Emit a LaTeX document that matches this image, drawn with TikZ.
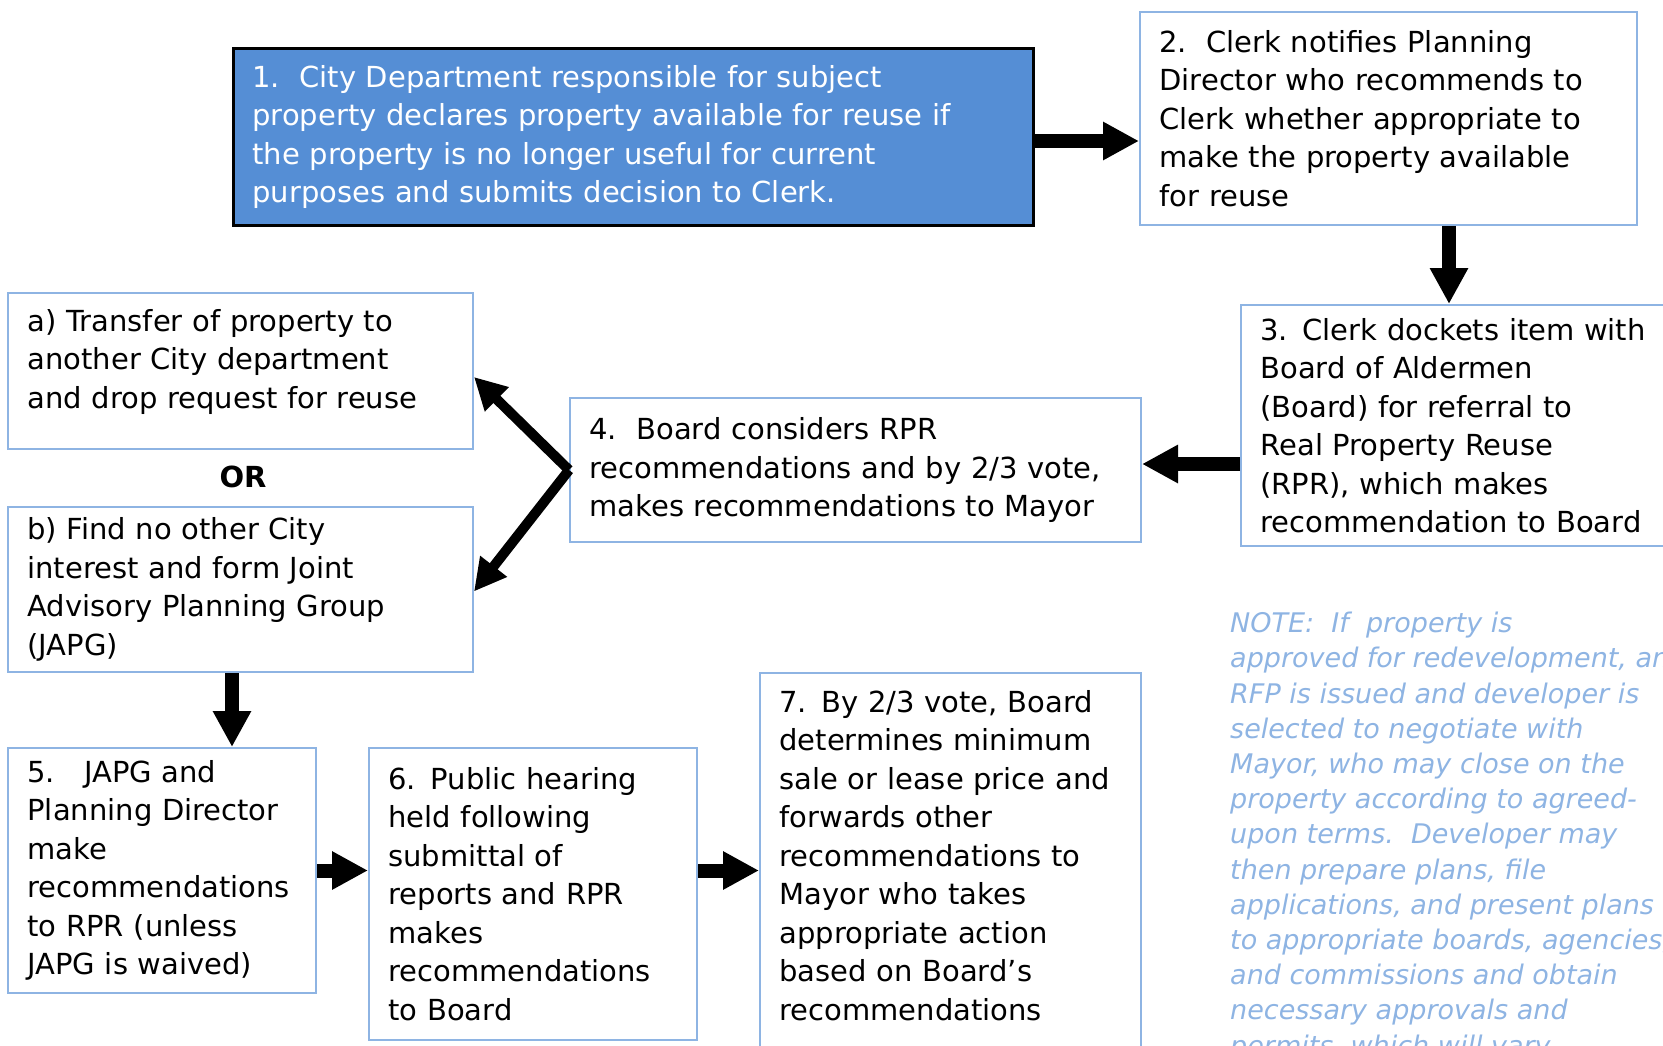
\documentclass[tikz,border=0pt]{standalone}
\usepackage{fontspec}
\setmainfont{DejaVu Sans}
\usepackage{xcolor}
\usetikzlibrary{arrows.meta}
\definecolor{boxblue}{HTML}{8EB4E3}
\definecolor{fillblue}{HTML}{558ED5}

\begin{document}
\begin{tikzpicture}[x=1pt,y=-1pt,
        stepbox/.style={draw=boxblue,line width=2pt,fill=white,align=left,
            inner xsep=19.5pt,inner ysep=0pt,font=\fontsize{29}{38.5}\selectfont},
        bigarrow/.style={-{Triangle[length=36pt,width=36pt]},line width=14pt},
        slimarrow/.style={-{Triangle[length=32pt,width=32pt]},line width=10pt},
        notetext/.style={align=left,inner sep=0pt,text=boxblue,
            font=\fontsize{27}{35.2}\selectfont\itshape}]
        \path[use as bounding box] (0,0) rectangle (1663,1046);
        \clip (0,0) rectangle (1663,1046);

        \node[stepbox,draw=black,line width=3pt,fill=fillblue,text=white,
            minimum width=800pt,minimum height=176pt,text width=761pt] (n1) at (633,137)
            {1.\ \ City Department responsible for subject\\property declares property available for reuse if\\the property is no longer useful for current\\purposes and submits decision to Clerk.};
        \node[stepbox,minimum width=497pt,minimum height=213pt,text width=458pt] (n2) at (1388.5,118.5)
            {2.\ \ Clerk notifies Planning\\Director who recommends to\\Clerk whether appropriate to\\make the property available\\for reuse};
        \node[stepbox,minimum width=470pt,minimum height=241pt,text width=431pt] (n3) at (1476,425.5)
            {3. Clerk dockets item with\\Board of Aldermen\\(Board) for referral to\\Real Property Reuse\\(RPR), which makes\\recommendation to Board};
        \node[stepbox,minimum width=571pt,minimum height=144pt,text width=532pt] (n4) at (855.5,470)
            {4.\ \ Board considers RPR\\recommendations and by 2/3 vote,\\makes recommendations to Mayor};
        \node[stepbox,minimum width=465pt,minimum height=156pt,text width=426pt] (na) at (240.5,371)
            {a) Transfer of property to\\another City department\\and drop request for reuse\\[-14pt]\mbox{}};
        \node[font=\fontsize{29}{38.5}\selectfont\bfseries] (or) at (243,477) {OR};
        \node[stepbox,minimum width=465pt,minimum height=165pt,text width=426pt] (nb) at (240.5,589.5)
            {b) Find no other City\\interest and form Joint\\Advisory Planning Group\\(JAPG)};
        \node[stepbox,minimum width=308pt,minimum height=245pt,text width=269pt] (n5) at (162,870.5)
            {5.\ \ \ JAPG and\\Planning Director\\make\\recommendations\\to RPR (unless\\JAPG is waived)};
        \node[stepbox,minimum width=328pt,minimum height=292pt,text width=289pt] (n6) at (533,894)
            {6. Public hearing\\held following\\submittal of\\reports and RPR\\makes\\recommendations\\to Board};
        \node[stepbox,anchor=north,inner ysep=17pt,minimum width=381pt,text width=342pt] (n7) at (950.5,672)
            {7. By 2/3 vote, Board\\determines minimum\\sale or lease price and\\forwards other\\recommendations to\\Mayor who takes\\appropriate action\\based on Board’s\\recommendations\\ \mbox{}};

        \node[notetext,anchor=north west] (note) at (1230,612)
            {NOTE:\ \ If\ \ property is\\approved for redevelopment, an\\RFP is issued and developer is\\selected to negotiate with\\Mayor, who may close on the\\property according to agreed-\\upon terms.\ \ Developer may\\then prepare plans, file\\applications, and present plans\\to appropriate boards, agencies,\\and commissions and obtain\\necessary approvals and\\permits, which will vary};

        \coordinate (c12) at (0,141);
        \coordinate (c23) at (1449,0);
        \coordinate (c34) at (0,464);
        \coordinate (cb5) at (232,0);
        \draw[bigarrow] (n1.east |- c12) -- (n2.west |- c12);
        \draw[bigarrow] (n2.south -| c23) -- (n3.north -| c23);
        \draw[bigarrow] (n3.west |- c34) -- (n4.east |- c34);
        \draw[slimarrow] (n4.west) -- ([yshift=-6pt]na.east);
        \draw[slimarrow] (n4.west) -- ([yshift=-2pt]nb.east);
        \draw[bigarrow] (nb.south -| cb5) -- (n5.north -| cb5);
        \draw[bigarrow] (n5.east) -- (n6.west |- n5.east);
        \draw[bigarrow] (n6.east |- n5.east) -- (n7.west |- n5.east);
    \end{tikzpicture}
\end{document}
